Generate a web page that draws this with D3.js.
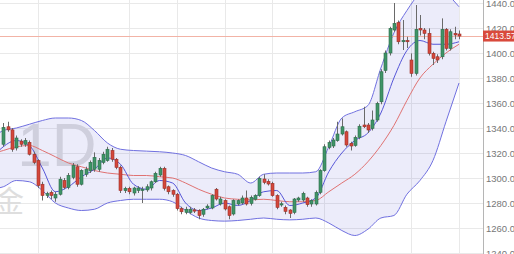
<!DOCTYPE html>
<html>
<head>
<meta charset="utf-8">
<script src="https://cdn.jsdelivr.net/npm/d3@7"></script>
<style>
  body { margin: 0; background: #fff; overflow: hidden; }
  svg { display: block; font-family: "Liberation Sans", Arial, sans-serif; }
</style>
</head>
<body>
<script>
// daily candles, oldest first
const opens = [1327, 1341, 1338.5, 1324, 1329.5, 1327, 1328.5, 1319, 1314, 1295,
  1286, 1288.5, 1284, 1287, 1298, 1292.5, 1300.5, 1309, 1295, 1303,
  1305.8, 1307, 1307, 1312.5, 1314, 1322, 1315, 1308.5, 1289.9, 1291.7,
  1288, 1290, 1290, 1290.5, 1292, 1297, 1302.4, 1307.7, 1293, 1290,
  1287, 1275.5, 1272.5, 1272.5, 1274.5, 1274, 1271, 1276, 1276, 1291,
  1279.2, 1282, 1277, 1271.2, 1279.2, 1280, 1284, 1279.7, 1283, 1285.9,
  1299.2, 1297.3, 1295.7, 1285.9, 1278.4, 1276.5, 1274.4, 1272.5, 1282.4, 1282.4,
  1284, 1279.2, 1279.2, 1288.5, 1305.9, 1324.5, 1325.6, 1329.9, 1335.2, 1337,
  1327.7, 1326, 1332.5, 1342.4, 1342.4, 1339.7, 1346.4, 1361, 1386, 1400,
  1418.4, 1424.3, 1409, 1410, 1394.4, 1383.7, 1419.7, 1418.4, 1415.7, 1399.7,
  1397, 1397, 1418.9, 1403.7, 1415.7, 1415.2];
const highs = [1344, 1345, 1340, 1334, 1331, 1332, 1330, 1321, 1315, 1297,
  1289, 1290, 1289, 1301, 1300, 1304, 1312, 1311, 1307, 1309,
  1314, 1320.5, 1316, 1321, 1325, 1324, 1316, 1310, 1293, 1293,
  1293, 1293.5, 1293, 1295, 1298, 1305, 1309, 1309, 1294, 1291,
  1288, 1277, 1277, 1277, 1276, 1275, 1276, 1279, 1287, 1292,
  1285, 1283, 1278, 1283, 1283, 1286, 1290, 1286, 1287, 1301,
  1303, 1299, 1297, 1287, 1281, 1278, 1275, 1284, 1285, 1289,
  1285, 1283, 1290, 1307, 1327, 1330, 1332, 1345, 1347.7, 1338,
  1329, 1334, 1343, 1357, 1344, 1354, 1361, 1387, 1402, 1421,
  1440, 1426, 1426.4, 1413, 1399.7, 1438.4, 1430.4, 1420, 1419.7, 1401,
  1399, 1427.7, 1420, 1419, 1421, 1418];
const lows = [1325, 1337, 1321, 1322, 1325, 1325, 1318, 1311, 1292, 1282,
  1284, 1283, 1281, 1286, 1291, 1291, 1299, 1293, 1294, 1301,
  1304, 1305, 1305, 1311, 1313, 1313, 1307, 1288, 1288, 1287,
  1286, 1288, 1280, 1289, 1290, 1296, 1301, 1290, 1287, 1285,
  1274, 1271, 1271, 1271, 1272, 1267, 1269, 1275, 1275, 1282,
  1278, 1274, 1267, 1270, 1278, 1279, 1278, 1278, 1282, 1285,
  1295, 1294, 1285, 1275, 1277, 1271, 1268, 1271, 1281, 1281,
  1277, 1277, 1278, 1287, 1305, 1323, 1324, 1329, 1334, 1325,
  1322, 1325, 1331, 1340, 1336, 1338, 1345, 1359, 1384, 1398,
  1417, 1407, 1402.4, 1404, 1381, 1382, 1414, 1411, 1398, 1390.4,
  1392, 1395, 1402, 1402, 1411, 1411];
const closes = [1340.5, 1338.5, 1323, 1332, 1327, 1330, 1319, 1312.5, 1294, 1286,
  1287.5, 1286, 1287, 1299, 1292.5, 1302, 1310, 1295, 1306, 1307,
  1312.5, 1316.5, 1314, 1319, 1323, 1315, 1308.5, 1290, 1291.7, 1289,
  1292, 1292, 1291, 1293, 1297, 1303.7, 1307.7, 1291.7, 1289, 1287,
  1275.5, 1273, 1275, 1275, 1273.5, 1270, 1275, 1277.5, 1286, 1283.2,
  1283.2, 1275.2, 1270, 1282, 1281.9, 1284, 1279.2, 1284.5, 1285.9, 1299.7,
  1296.5, 1295.2, 1285.9, 1276.5, 1279.4, 1273.3, 1271.7, 1283.2, 1284, 1287.7,
  1278.7, 1281.9, 1288.5, 1305.9, 1325, 1328.3, 1330.4, 1335.2, 1341, 1326.4,
  1325.6, 1332.5, 1341.4, 1341, 1338.4, 1346.4, 1359.7, 1385, 1400, 1419.7,
  1423.7, 1409, 1410, 1409, 1383.7, 1418.9, 1418.4, 1415.7, 1399.7, 1395.7,
  1394.4, 1418.9, 1403.7, 1417, 1414.4, 1413.57];

// indicator lines, read at every third candle
const bandIdx = [-1, 0, 3, 6, 9, 12, 15, 18, 21, 24, 27, 30, 33, 36, 39, 42, 45, 48, 51,
  54, 57, 60, 63, 66, 69, 72, 75, 78, 81, 84, 87, 90, 93, 96, 99, 102, 105];
const upperBand = [1336, 1338, 1340, 1343, 1346, 1348, 1348, 1346, 1338, 1328, 1323, 1322, 1321.5, 1321, 1320, 1318, 1313, 1308, 1305,
  1303, 1296, 1303, 1304, 1304, 1304, 1305, 1325, 1348, 1353, 1358, 1388, 1416, 1434, 1448, 1455, 1448, 1437];
const lowerBand = [1292, 1293, 1298, 1297, 1290, 1280, 1276, 1274, 1275, 1280, 1282, 1283, 1283, 1283, 1281, 1274, 1268, 1266, 1265.5,
  1266, 1267, 1268, 1267, 1266.5, 1267, 1268, 1264, 1258, 1254, 1259, 1268, 1270, 1287, 1298, 1314, 1345, 1376];
const middleBand = [1321, 1322, 1325, 1326, 1322, 1317, 1312, 1309, 1306, 1304, 1303, 1302, 1302, 1301, 1300, 1296, 1291, 1287, 1284,
  1283, 1282.5, 1283, 1282, 1281, 1281, 1282, 1289, 1296, 1303, 1313, 1326, 1342, 1362, 1380, 1391, 1400, 1407];
const fastAvg = [1322, 1325, 1330, 1326, 1308, 1289, 1293, 1301, 1307, 1316, 1311, 1295, 1291, 1298, 1296, 1280, 1274, 1276, 1280,
  1278, 1282, 1289, 1290, 1278, 1280, 1284, 1305, 1320, 1330, 1336, 1352, 1380, 1402, 1410, 1407, 1407, 1409];

const priceTicks = [1240, 1260, 1280, 1300, 1320, 1340, 1360, 1380, 1400, 1420, 1440];
const gridIdx = [8, 29, 40, 51, 62, 74, 94, 105];
const lastPrice = 1413.57;

const width = 514, height = 254, axisX = 483;

const svg = d3.select('body').append('svg')
    .attr('width', width)
    .attr('height', height);

const x = d3.scaleLinear().domain([0, 105]).range([3.3, 459]);
const y = d3.scaleLinear().domain([1240, 1440]).range([253, 3]);

svg.append('clipPath').attr('id', 'plot')
  .append('rect').attr('x', 0).attr('y', 0).attr('width', axisX).attr('height', height);

const plot = svg.append('g').attr('clip-path', 'url(#plot)');

// grid
plot.append('g').selectAll('line')
  .data(priceTicks)
  .enter().append('line')
    .attr('x1', 0).attr('x2', axisX)
    .attr('y1', d => Math.round(y(d)) + 0.5).attr('y2', d => Math.round(y(d)) + 0.5)
    .attr('stroke', '#e9e9e9');

plot.append('g').selectAll('line')
  .data(gridIdx)
  .enter().append('line')
    .attr('x1', d => Math.round(x(d)) + 0.5).attr('x2', d => Math.round(x(d)) + 0.5)
    .attr('y1', 0).attr('y2', height)
    .attr('stroke', '#e9e9e9');

// watermark
plot.append('text')
    .attr('x', 57).attr('y', 166)
    .attr('text-anchor', 'middle')
    .attr('font-size', 62)
    .attr('fill', '#dedede')
    .text('1D');
plot.append('text')
    .attr('x', 24).attr('y', 212)
    .attr('text-anchor', 'end')
    .attr('font-family', '"Noto Sans CJK SC", sans-serif')
    .attr('font-size', 30)
    .attr('fill', '#dedede')
    .text('黄金');

// bollinger band
const bandPts = bandIdx.map((d, i) => ({ i: d, up: upperBand[i], lo: lowerBand[i], mid: middleBand[i], fast: fastAvg[i] }));

plot.append('path')
    .datum(bandPts)
    .attr('d', d3.area().curve(d3.curveMonotoneX)
      .x(d => x(d.i)).y0(d => y(d.lo)).y1(d => y(d.up)))
    .attr('fill', '#6c6cd9')
    .attr('fill-opacity', 0.13);

const lineOf = (key, colour) => plot.append('path')
    .datum(bandPts)
    .attr('d', d3.line().curve(d3.curveMonotoneX).x(d => x(d.i)).y(d => y(d[key])))
    .attr('fill', 'none')
    .attr('stroke', colour)
    .attr('stroke-width', 1);

lineOf('up', '#7070e0');
lineOf('lo', '#7070e0');
lineOf('mid', '#e07272');
lineOf('fast', '#5656d8');

// last price line
plot.append('line')
    .attr('x1', 0).attr('x2', axisX)
    .attr('y1', Math.round(y(lastPrice)) + 0.5).attr('y2', Math.round(y(lastPrice)) + 0.5)
    .attr('stroke', '#f2b3a6');

// candles
const candles = opens.map((o, i) => ({ i, o, h: highs[i], l: lows[i], c: closes[i] }));

const cg = plot.append('g').selectAll('g')
  .data(candles)
  .enter().append('g');

cg.append('line')
    .attr('x1', d => Math.round(x(d.i)) + 0.5).attr('x2', d => Math.round(x(d.i)) + 0.5)
    .attr('y1', d => y(d.h)).attr('y2', d => y(d.l))
    .attr('stroke', '#6a6a6a');

cg.append('rect')
    .attr('x', d => Math.round(x(d.i)) - 1)
    .attr('width', 3)
    .attr('y', d => y(Math.max(d.o, d.c)))
    .attr('height', d => Math.max(1, Math.abs(y(d.o) - y(d.c))))
    .attr('fill', d => d.c >= d.o ? '#3f9467' : '#d4473b')
    .attr('stroke', d => d.c >= d.o ? '#2c6c4a' : '#9c3028')
    .attr('stroke-width', 0.6);

// price axis
svg.append('line')
    .attr('x1', axisX + 0.5).attr('x2', axisX + 0.5)
    .attr('y1', 0).attr('y2', height)
    .attr('stroke', '#b5b5b5');

svg.append('g').selectAll('text')
  .data(priceTicks)
  .enter().append('text')
    .attr('x', axisX + 3)
    .attr('y', d => y(d) + 3.5)
    .attr('font-size', 9.5)
    .attr('fill', '#777')
    .text(d => d.toFixed(2));

const tag = svg.append('g');
tag.append('rect')
    .attr('x', axisX).attr('y', y(lastPrice) - 5.5)
    .attr('width', width - axisX).attr('height', 11)
    .attr('fill', '#d9493c');
tag.append('text')
    .attr('x', axisX + 2).attr('y', y(lastPrice) + 3)
    .attr('font-size', 8.5)
    .attr('fill', '#fff')
    .text(lastPrice.toFixed(2));
</script>
</body>
</html>
